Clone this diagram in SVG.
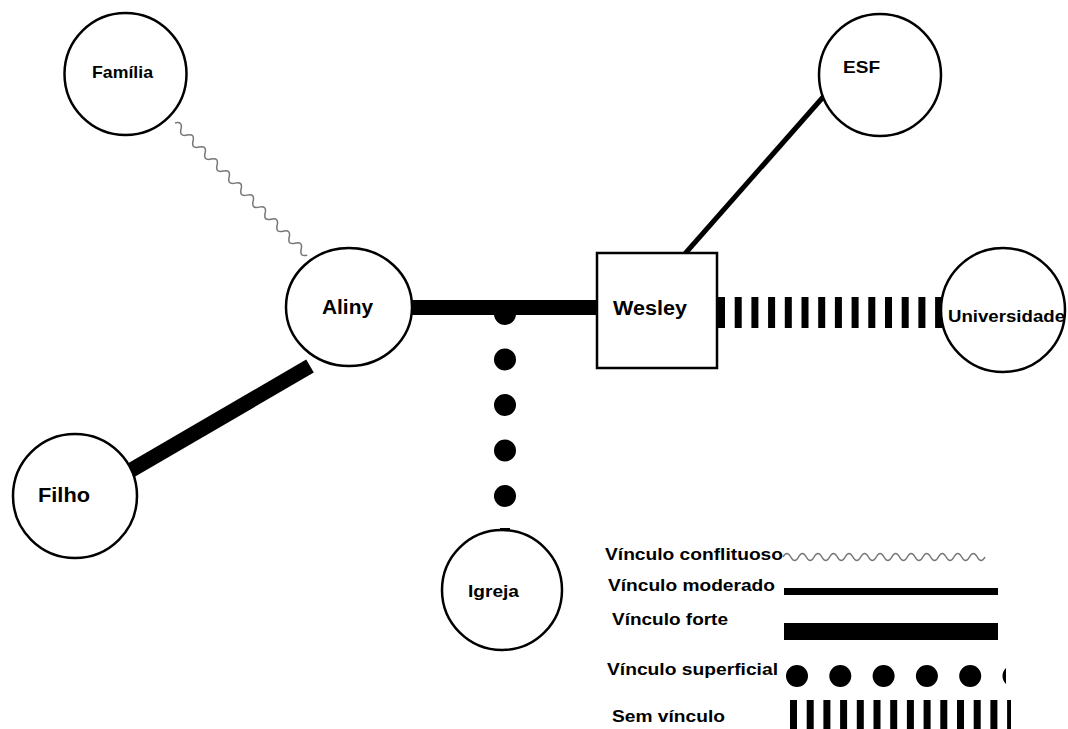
<svg xmlns="http://www.w3.org/2000/svg" width="1068" height="729" viewBox="0 0 1068 729">
<style>
.node{fill:#fff;stroke:#000;stroke-width:2.5}
.lbl{font-family:"Liberation Sans",Arial,sans-serif;font-weight:bold;fill:#000}
.leg{font-family:"Liberation Sans",Arial,sans-serif;font-weight:bold;font-size:17px;fill:#000}
.wave{fill:none;stroke:#777;stroke-width:1.5}
.solid{stroke:#000;fill:none}
.none{stroke:#000;stroke-dasharray:7 9.7}
.dots{stroke:#000;stroke-linecap:round;stroke-dasharray:0 45.5;stroke-width:22}
</style>
<defs>
<clipPath id="legclip"><rect x="780" y="690" width="231" height="40"/></clipPath>
<clipPath id="dotclip"><rect x="780" y="660" width="226" height="35"/></clipPath>
</defs>
<rect width="1068" height="729" fill="#fff"/>
<g id="connectors">
<path class="wave" transform="translate(175,123) rotate(45)" d="M0 0 q4.25 -7 8.5 0 t8.5 0 t8.5 0 t8.5 0 t8.5 0 t8.5 0 t8.5 0 t8.5 0 t8.5 0 t8.5 0 t8.5 0 t8.5 0 t8.5 0 t8.5 0 t8.5 0 t8.5 0 t8.5 0 t8.5 0 t8.5 0 t8.5 0 t8.5 0 t8.5 0"/>
<line class="solid" x1="128" y1="472" x2="310" y2="366" stroke-width="15"/>
<line class="dots" x1="505" y1="314" x2="505" y2="530"/>
<rect x="500" y="528" width="10" height="3" fill="#000"/>
<line class="solid" x1="411" y1="307.5" x2="598" y2="307.5" stroke-width="15"/>
<line class="solid" x1="683" y1="256" x2="824" y2="96" stroke-width="5"/>
<line class="none" x1="718" y1="312.5" x2="943" y2="312.5" stroke-width="31"/>
</g>
<g id="node-familia"><circle class="node" cx="125.5" cy="74" r="61"/><text class="lbl" x="92" y="78" font-size="17" textLength="61" lengthAdjust="spacingAndGlyphs">Família</text></g>
<g id="node-esf"><circle class="node" cx="880" cy="75" r="61"/><text class="lbl" x="843" y="73" font-size="17" textLength="37" lengthAdjust="spacingAndGlyphs">ESF</text></g>
<g id="node-aliny"><ellipse class="node" cx="349" cy="307" rx="63" ry="59"/><text class="lbl" x="322" y="314" font-size="20" textLength="51" lengthAdjust="spacingAndGlyphs">Aliny</text></g>
<g id="node-wesley"><rect class="node" x="597" y="253" width="120" height="115"/><text class="lbl" x="613" y="315" font-size="20" textLength="74" lengthAdjust="spacingAndGlyphs">Wesley</text></g>
<g id="node-universidade"><circle class="node" cx="1003" cy="310" r="62"/><text class="lbl" x="948" y="322" font-size="17" textLength="117" lengthAdjust="spacingAndGlyphs">Universidade</text></g>
<g id="node-filho"><circle class="node" cx="75" cy="496" r="62"/><text class="lbl" x="38" y="502" font-size="20" textLength="52" lengthAdjust="spacingAndGlyphs">Filho</text></g>
<g id="node-igreja"><circle class="node" cx="502" cy="590" r="60"/><text class="lbl" x="468" y="597" font-size="17" textLength="51" lengthAdjust="spacingAndGlyphs">Igreja</text></g>
<g id="legend">
<text class="leg" x="605" y="560" textLength="178" lengthAdjust="spacingAndGlyphs">Vínculo conflituoso</text>
<path class="wave" d="M783 557 q3.88 -7 7.77 0 t7.77 0 t7.77 0 t7.77 0 t7.77 0 t7.77 0 t7.77 0 t7.77 0 t7.77 0 t7.77 0 t7.77 0 t7.77 0 t7.77 0 t7.77 0 t7.77 0 t7.77 0 t7.77 0 t7.77 0 t7.77 0 t7.77 0 t7.77 0 t7.77 0 t7.77 0 t7.77 0 t7.77 0 t7.77 0"/>
<text class="leg" x="608" y="591" textLength="167" lengthAdjust="spacingAndGlyphs">Vínculo moderado</text>
<line class="solid" x1="784" y1="591.5" x2="998" y2="591.5" stroke-width="7"/>
<text class="leg" x="612" y="625" textLength="116" lengthAdjust="spacingAndGlyphs">Vínculo forte</text>
<line class="solid" x1="784" y1="631.5" x2="998" y2="631.5" stroke-width="17"/>
<text class="leg" x="607" y="675" textLength="171" lengthAdjust="spacingAndGlyphs">Vínculo superficial</text>
<g clip-path="url(#dotclip)"><line stroke="#000" stroke-width="22" stroke-linecap="round" stroke-dasharray="0 43.3" x1="797" y1="676" x2="1020" y2="676"/></g>
<text class="leg" x="612" y="722" textLength="113" lengthAdjust="spacingAndGlyphs">Sem vínculo</text>
<g clip-path="url(#legclip)"><line class="none" x1="790" y1="715" x2="1011" y2="715" stroke-width="30"/></g>
</g>
</svg>
